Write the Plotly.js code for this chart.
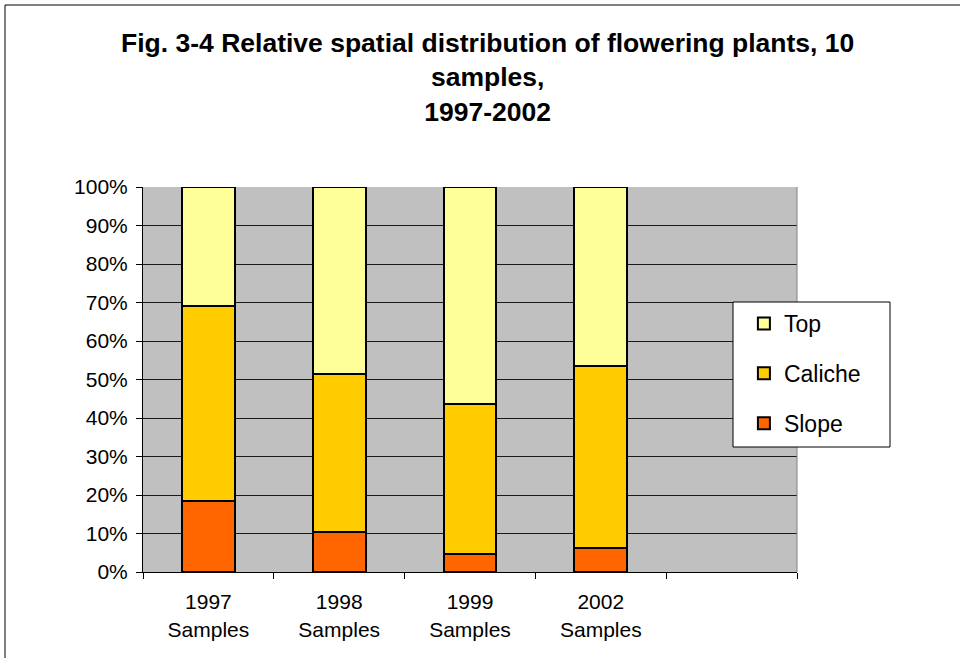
<!DOCTYPE html>
<html>
<head>
<meta charset="utf-8">
<script src="https://cdn.plot.ly/plotly-3.0.1.min.js"></script>
<style>html,body{margin:0;padding:0;background:#fff;}#chart{width:960px;height:658px;}</style>
</head>
<body>
<div id="chart"></div>
<script>
// Data (percent of flowering plants by location)
const years = ["1997", "1998", "1999", "2002"];
const tickLabels = ["1997<br>Samples", "1998<br>Samples", "1999<br>Samples", "2002<br>Samples"];
const slope = [18.4, 10.4, 4.6, 6.2];
const caliche = [50.6, 41.0, 39.1, 47.4];
const top_ = [31.0, 48.6, 56.3, 46.4];
const yTicks = [0, 10, 20, 30, 40, 50, 60, 70, 80, 90, 100];

const xPos = years.map((_, i) => i);
const boundaries = [-0.5, 0.5, 1.5, 2.5, 3.5, 4.5];

function barTrace(name, vals, color, grp, rank) {
  return {
    type: 'bar', name: name, x: xPos, y: vals, legendgroup: grp, legendrank: rank,
    marker: {color: color, line: {color: '#000000', width: 2}},
    hoverinfo: 'name+y'
  };
}

const data = [
  barTrace('Slope', slope, '#FF6600', 'c', 3),
  barTrace('Caliche', caliche, '#FFCC00', 'b', 2),
  barTrace('Top', top_, '#FFFF99', 'a', 1)
];

// plot-area pixel helpers (plot area spans x 143..797, y 187..572)
const px = x => (x - 143) / 654;
const py = y => (572 - y) / 385;

const layout = {
  width: 960, height: 658,
  paper_bgcolor: '#ffffff', plot_bgcolor: '#C0C0C0',
  margin: {l: 143, r: 163, t: 187, b: 86},
  barmode: 'stack', bargap: 0.595,
  font: {family: 'Arial, "Liberation Sans", sans-serif', color: '#000000'},
  title: {
    text: 'Fig. 3-4 Relative spatial distribution of flowering plants, 10<br>samples,<br>1997-2002',
    font: {size: 26.5, family: 'Arial, "Liberation Sans", sans-serif', weight: 'bold', color: '#000'},
    x: 0.508, xref: 'container', xanchor: 'center',
    y: 1 - 52/658, yref: 'container', yanchor: 'top'
  },
  xaxis: {
    range: [-0.5, 4.5], tickmode: 'array', tickvals: xPos, ticktext: tickLabels,
    ticks: '', showgrid: false, zeroline: false,
    showline: true, linecolor: '#000000', linewidth: 1,
    tickfont: {size: 21}, ticklabelstandoff: 11,
    minor: {tickmode: 'array', tickvals: boundaries, ticks: 'outside', ticklen: 6, tickcolor: '#000', tickwidth: 1, showgrid: false},
    fixedrange: true
  },
  yaxis: {
    range: [0, 100], tickmode: 'array', tickvals: yTicks,
    ticktext: yTicks.map(v => v + '%'),
    ticks: 'outside', ticklen: 6, tickcolor: '#000', tickwidth: 1,
    showgrid: true, gridcolor: '#1a1a1a', gridwidth: 1,
    zeroline: false, showline: true, linecolor: '#000', linewidth: 1,
    tickfont: {size: 21}, ticklabelstandoff: 4,
    fixedrange: true
  },
  legend: {
    x: 0.902, xanchor: 'left', y: 0.7013, yanchor: 'top',
    bgcolor: 'rgba(0,0,0,0)', bordercolor: '#000000', borderwidth: 0,
    font: {size: 23}, traceorder: 'grouped', tracegroupgap: 17,
    indentation: 11
  },
  shapes: [
    {type: 'line', xref: 'paper', yref: 'paper', x0: 1, x1: 1, y0: 0, y1: 1, line: {color: '#808080', width: 1}},
    {type: 'rect', xref: 'paper', yref: 'paper', x0: px(733), x1: px(890), y0: py(302), y1: py(447),
     fillcolor: '#ffffff', line: {color: '#000', width: 1}, layer: 'above'},
    {type: 'line', xref: 'paper', yref: 'paper', x0: px(5), x1: px(5), y0: py(5), y1: py(700), line: {color: '#000', width: 1}},
    {type: 'line', xref: 'paper', yref: 'paper', x0: px(5), x1: px(1000), y0: py(5), y1: py(5), line: {color: '#000', width: 1}}
  ],
  showlegend: true
};

Plotly.newPlot('chart', data, layout, {displayModeBar: false, staticPlot: true});
</script>
</body>
</html>
